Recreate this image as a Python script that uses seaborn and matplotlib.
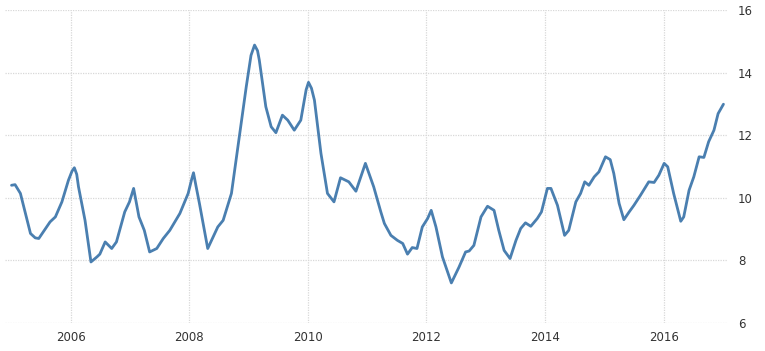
import matplotlib
matplotlib.use("Agg")
import matplotlib.pyplot as plt
import seaborn as sns
import pandas as pd

years = [2005.00, 2005.06, 2005.15, 2005.32, 2005.40, 2005.46, 2005.65, 2005.74, 2005.85, 2005.96,
         2006.02, 2006.06, 2006.10, 2006.13, 2006.24, 2006.34, 2006.44, 2006.49, 2006.58, 2006.69, 2006.77, 2006.91, 2006.99,
         2007.06, 2007.15, 2007.24, 2007.33, 2007.45, 2007.56, 2007.67, 2007.84, 2007.98,
         2008.04, 2008.07, 2008.11, 2008.17, 2008.31, 2008.48, 2008.57, 2008.71, 2008.82, 2008.96,
         2009.04, 2009.10, 2009.15, 2009.18, 2009.29, 2009.38, 2009.46, 2009.57, 2009.66, 2009.77, 2009.88,
         2009.97, 2010.01, 2010.06, 2010.11, 2010.22, 2010.33, 2010.44, 2010.55, 2010.69, 2010.81, 2010.97,
         2011.11, 2011.23, 2011.29, 2011.40, 2011.51, 2011.60, 2011.68, 2011.76, 2011.84, 2011.93,
         2012.02, 2012.08, 2012.16, 2012.27, 2012.42, 2012.55, 2012.66, 2012.72, 2012.80, 2012.92,
         2013.03, 2013.14, 2013.22, 2013.31, 2013.41, 2013.51, 2013.59, 2013.67, 2013.76, 2013.87, 2013.94,
         2014.04, 2014.10, 2014.21, 2014.33, 2014.40, 2014.52, 2014.60, 2014.67, 2014.74, 2014.83, 2014.91,
         2015.02, 2015.10, 2015.16, 2015.25, 2015.33, 2015.42, 2015.50, 2015.61, 2015.75, 2015.84, 2015.92,
         2016.01, 2016.07, 2016.17, 2016.29, 2016.34, 2016.43, 2016.51, 2016.60, 2016.68, 2016.76, 2016.85,
         2016.92, 2017.01]
values = [10.40, 10.42, 10.14, 8.86, 8.72, 8.70, 9.23, 9.39, 9.87, 10.56,
          10.85, 10.96, 10.75, 10.35, 9.28, 7.95, 8.11, 8.20, 8.59, 8.38, 8.59, 9.55, 9.87,
          10.30, 9.39, 8.96, 8.27, 8.38, 8.70, 8.96, 9.50, 10.14,
          10.60, 10.80, 10.40, 9.82, 8.38, 9.07, 9.28, 10.14, 11.63, 13.55,
          14.55, 14.88, 14.70, 14.40, 12.91, 12.27, 12.08, 12.64, 12.48, 12.16, 12.48,
          13.45, 13.69, 13.50, 13.12, 11.42, 10.14, 9.87, 10.64, 10.51, 10.21, 11.10,
          10.35, 9.55, 9.18, 8.80, 8.64, 8.54, 8.20, 8.41, 8.38, 9.07,
          9.34, 9.60, 9.07, 8.11, 7.28, 7.79, 8.27, 8.30, 8.48, 9.39,
          9.73, 9.60, 8.96, 8.32, 8.06, 8.64, 9.02, 9.20, 9.09, 9.34, 9.55,
          10.30, 10.30, 9.76, 8.80, 8.96, 9.87, 10.14, 10.51, 10.40, 10.67, 10.83,
          11.31, 11.22, 10.78, 9.82, 9.30, 9.55, 9.76, 10.08, 10.51, 10.49, 10.72,
          11.10, 10.99, 10.14, 9.25, 9.39, 10.24, 10.67, 11.31, 11.29, 11.79, 12.16,
          12.69, 12.99]
x_ticks = [2006, 2008, 2010, 2012, 2014, 2016]
y_ticks = [6, 8, 10, 12, 14, 16]

df = pd.DataFrame({"year": years, "value": values})

sns.set_style("white")
fig = plt.figure(figsize=(7.65, 3.51), dpi=100)
ax = fig.add_axes([5 / 765, 1 - 323 / 351, (727 - 5) / 765, (323 - 10) / 351])
sns.lineplot(data=df, x="year", y="value", ax=ax, color="#4a7fb0", linewidth=2.0)
ax.lines[0].set_solid_joinstyle("round")

ax.set_xlim(2004.89, 2017.07)
ax.set_ylim(6, 16)
ax.set_xticks(x_ticks)
ax.set_xticklabels([str(t) for t in x_ticks])
ax.set_yticks(y_ticks)
ax.set_yticklabels([str(t) for t in y_ticks])
ax.yaxis.tick_right()
ax.set_xlabel("")
ax.set_ylabel("")
ax.grid(True, color="#d8d8d8", linestyle=(0, (1, 1)), linewidth=0.9)
for s in ax.spines.values():
    s.set_visible(False)
ax.tick_params(axis="both", length=0, labelsize=8.5, labelcolor="#333333")
ax.tick_params(axis="y", pad=8)
ax.tick_params(axis="x", pad=6)

fig.savefig("out.png", dpi=100)
